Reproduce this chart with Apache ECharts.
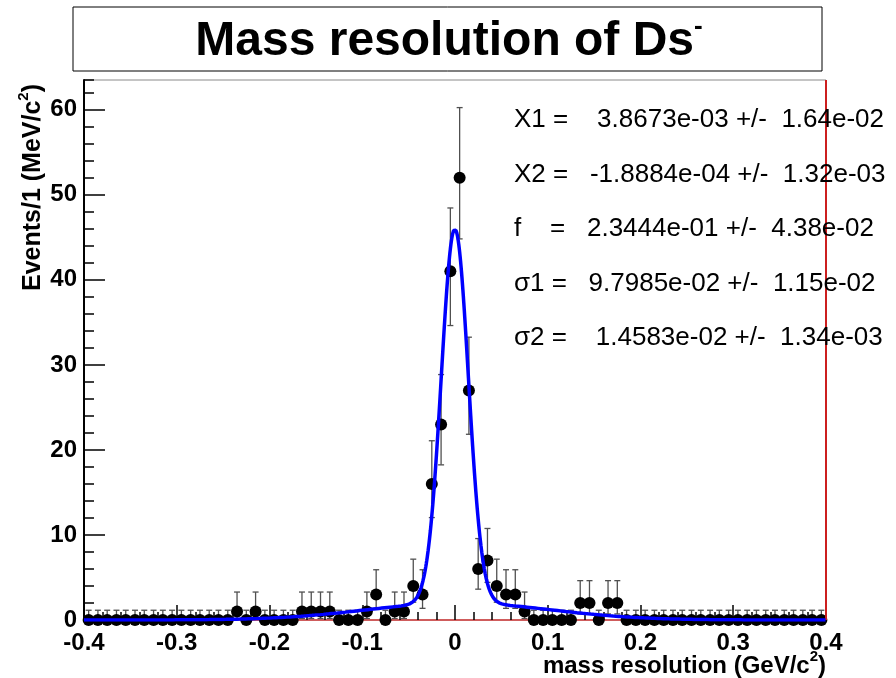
<!DOCTYPE html>
<html>
<head>
<meta charset="utf-8">
<script src="https://cdn.jsdelivr.net/npm/echarts@6/dist/echarts.min.js"></script>
<style>
  html, body { margin: 0; padding: 0; background: #ffffff; }
  #chart { width: 896px; height: 678px; }
</style>
</head>
<body>
<div id="chart"></div>
<script>
// Histogram of the Ds- mass resolution: 80 bins of 0.01 GeV/c^2 from -0.4 to 0.4
const binLow = -0.4;
const binWidth = 0.01;
const counts = [
  0, 0, 0, 0, 0, 0, 0, 0, 0, 0, 0, 0, 0, 0, 0, 0,   // -0.395 .. -0.245
  1, 0, 1, 0, 0, 0, 0, 1, 1, 1, 1, 0, 0, 0,         // -0.235 .. -0.105
  1, 3, 0, 1, 1, 4, 3, 16, 23, 41,                  // -0.095 .. -0.005
  52, 27, 6, 7, 4, 3, 3, 1, 0, 0, 0, 0, 0,          //  0.005 ..  0.125
  2, 2, 0, 2, 2,                                    //  0.135 ..  0.175
  0, 0, 0, 0, 0, 0, 0, 0, 0, 0, 0,
  0, 0, 0, 0, 0, 0, 0, 0, 0, 0, 0                   //  0.185 ..  0.395
];

// Double-Gaussian fit parameters
const paramNames  = ['X1', 'X2', 'f', 'σ1', 'σ2'];
const paramValues = [3.8673e-03, -1.8884e-04, 2.3444e-01, 9.7985e-02, 1.4583e-02];
const paramErrors = [1.64e-02, 1.32e-03, 4.38e-02, 1.15e-02, 1.34e-03];

// Axis ranges and tick spacing
const xRange = [-0.4, 0.4];
const yRange = [0, 63.5];
const xMajor = 0.1, xMinor = 0.02;
const yMajor = 10, yMinor = 2;

const FONT = 'Liberation Sans, Arial, Helvetica, sans-serif';

// Bin centres
const binCenters = counts.map((_, i) => +(binLow + binWidth * (i + 0.5)).toFixed(3));

// Poisson 68.27% interval (one-sided for empty bins, central otherwise)
function poissonInterval(n) {
  if (n === 0) return [0, -Math.log(1 - 0.6827)];
  const lo = n * Math.pow(1 - 1 / (9 * n) - 1 / (3 * Math.sqrt(n)), 3);
  const m = n + 1;
  const hi = m * Math.pow(1 - 1 / (9 * m) + 1 / (3 * Math.sqrt(m)), 3);
  return [lo, hi];
}

const pointData = counts.map((n, i) => [binCenters[i], n]);
const errorData = counts.map((n, i) => {
  const iv = poissonInterval(n);
  return [binCenters[i], iv[0], iv[1]];
});

// Fitted model: f*G(X1, σ1) + (1-f)*G(X2, σ2), scaled to events per bin
const [X1, X2, fFrac, s1, s2] = paramValues;
const nEvents = counts.reduce((a, b) => a + b, 0);
function gauss(x, m, s) {
  return Math.exp(-0.5 * ((x - m) / s) ** 2) / (Math.sqrt(2 * Math.PI) * s);
}
const curveData = [];
for (let k = 0; k <= 1600; k++) {
  const x = xRange[0] + (xRange[1] - xRange[0]) * k / 1600;
  const pdf = fFrac * gauss(x, X1, s1) + (1 - fFrac) * gauss(x, X2, s2);
  curveData.push([x, nEvents * binWidth * pdf]);
}

// Parameter box text, formatted like the fit printout
function fmtExp(v, d) {
  const s = v.toExponential(d);
  return s.replace(/e([+-])(\d)$/, 'e$10$2');
}
const nameGap = [' ', ' ', '    ', ' ', ' '];
const valueGap = ['    ', '   ', '   ', '   ', '    '];
const paramLines = paramNames.map((nm, i) =>
  nm + nameGap[i] + '=' + valueGap[i] + fmtExp(paramValues[i], 4) + ' +/-  ' + fmtExp(paramErrors[i], 2));

const chart = echarts.init(document.getElementById('chart'), null, { renderer: 'canvas' });

const tickLabelStyle = { fontFamily: FONT, fontWeight: 'bold', fontSize: 24, color: '#000' };

const option = {
  backgroundColor: '#ffffff',
  animation: false,
  grid: {
    left: 84, right: 70, top: 80, bottom: 58,
    show: true, borderColor: '#8a8a8a', borderWidth: 1, backgroundColor: 'transparent'
  },
  xAxis: [
    {
      type: 'value', min: xRange[0], max: xRange[1], interval: xMajor, position: 'bottom',
      axisLine: { show: true, onZero: false, lineStyle: { color: '#d23a3a', width: 1.5 } },
      axisTick: { show: true, inside: true, length: 15, lineStyle: { color: '#000', width: 1.5 } },
      splitLine: { show: false },
      axisLabel: Object.assign({
        margin: 11, showMinLabel: true, showMaxLabel: true,
        formatter: v => (Math.abs(v) < 1e-9 ? '0' : v.toFixed(1))
      }, tickLabelStyle)
    },
    {
      type: 'value', min: xRange[0], max: xRange[1], interval: xMinor, position: 'bottom',
      axisLine: { show: false, onZero: false },
      axisTick: { show: true, inside: true, length: 8, lineStyle: { color: '#000', width: 1.5 } },
      splitLine: { show: false },
      axisLabel: { show: false }
    }
  ],
  yAxis: [
    {
      type: 'value', min: yRange[0], max: yRange[1], interval: yMajor, position: 'left',
      axisLine: { show: true, onZero: false, lineStyle: { color: '#000', width: 2 } },
      axisTick: { show: true, inside: true, length: 21, lineStyle: { color: '#000', width: 1.5 } },
      splitLine: { show: false },
      axisLabel: Object.assign({ margin: 7, showMaxLabel: false }, tickLabelStyle)
    },
    {
      type: 'value', min: yRange[0], max: yRange[1], interval: yMinor, position: 'left',
      axisLine: { show: false, onZero: false },
      axisTick: { show: true, inside: true, length: 10, lineStyle: { color: '#000', width: 1.5 } },
      splitLine: { show: false },
      axisLabel: { show: false }
    }
  ],
  series: [
    {
      type: 'custom',
      name: 'errors',
      xAxisIndex: 0, yAxisIndex: 0,
      data: errorData,
      z: 3,
      renderItem: function (params, api) {
        const x = api.value(0);
        const pLo = api.coord([x, api.value(1)]);
        const pHi = api.coord([x, api.value(2)]);
        const cap = 3;
        const st = { stroke: '#505050', lineWidth: 1.3 };
        return {
          type: 'group',
          children: [
            { type: 'line', shape: { x1: pLo[0], y1: pLo[1], x2: pHi[0], y2: pHi[1] }, style: st },
            { type: 'line', shape: { x1: pHi[0] - cap, y1: pHi[1], x2: pHi[0] + cap, y2: pHi[1] }, style: st },
            { type: 'line', shape: { x1: pLo[0] - cap, y1: pLo[1], x2: pLo[0] + cap, y2: pLo[1] }, style: st }
          ]
        };
      }
    },
    {
      type: 'scatter',
      name: 'data',
      xAxisIndex: 0, yAxisIndex: 0,
      data: pointData,
      symbol: 'circle',
      symbolSize: 12,
      itemStyle: { color: '#000', opacity: 1 },
      z: 4
    },
    {
      type: 'line',
      name: 'fit',
      xAxisIndex: 0, yAxisIndex: 0,
      data: curveData,
      showSymbol: false,
      symbol: 'none',
      smooth: false,
      lineStyle: { color: '#0000ff', width: 3.5 },
      z: 5,
      markLine: {
        silent: true,
        symbol: 'none',
        label: { show: false },
        lineStyle: { color: '#cc1f1f', width: 2, type: 'solid' },
        data: [{ xAxis: xRange[1] }]
      }
    }
  ],
  graphic: [
    {
      type: 'rect', z: 10,
      shape: { x: 73, y: 7, width: 749, height: 64 },
      style: { fill: '#fff', stroke: '#000', lineWidth: 1 }
    },
    {
      type: 'text', z: 11, x: 449, y: 40,
      style: {
        text: '{t|Mass resolution of Ds}{s|-}',
        align: 'center', verticalAlign: 'middle',
        rich: {
          t: { fontFamily: FONT, fontWeight: 'bold', fontSize: 48, lineHeight: 52, verticalAlign: 'bottom', fill: '#000' },
          s: { fontFamily: FONT, fontWeight: 'bold', fontSize: 26, lineHeight: 52, verticalAlign: 'top', fill: '#000' }
        }
      }
    },
    {
      type: 'text', z: 11, x: 31, y: 84, rotation: Math.PI / 2,
      style: {
        text: '{a|Events/1 (MeV/c}{s|2}{a|)}',
        align: 'right', verticalAlign: 'middle',
        rich: {
          a: { fontFamily: FONT, fontWeight: 'bold', fontSize: 25, lineHeight: 30, verticalAlign: 'bottom', fill: '#000' },
          s: { fontFamily: FONT, fontWeight: 'bold', fontSize: 15, lineHeight: 30, verticalAlign: 'top', fill: '#000' }
        }
      }
    },
    {
      type: 'text', z: 11, x: 826, y: 664,
      style: {
        text: '{a|mass resolution (GeV/c}{s|2}{a|)}',
        align: 'right', verticalAlign: 'middle',
        rich: {
          a: { fontFamily: FONT, fontWeight: 'bold', fontSize: 24, lineHeight: 29, verticalAlign: 'bottom', fill: '#000' },
          s: { fontFamily: FONT, fontWeight: 'bold', fontSize: 15, lineHeight: 29, verticalAlign: 'top', fill: '#000' }
        }
      }
    }
  ].concat(paramLines.map((line, i) => ({
    type: 'text', z: 12, x: 514, y: 120 + i * 54.5,
    style: {
      text: line, fontFamily: FONT, fontSize: 26, fill: '#000',
      align: 'left', verticalAlign: 'middle'
    }
  })))
};

chart.setOption(option);
</script>
</body>
</html>
